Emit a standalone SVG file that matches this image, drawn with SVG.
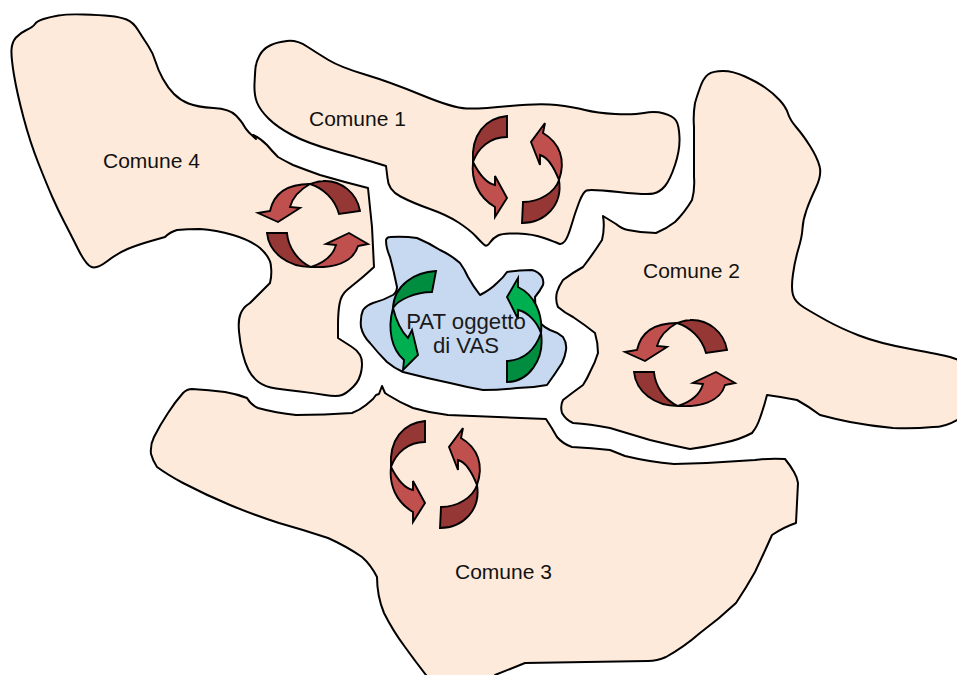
<svg xmlns="http://www.w3.org/2000/svg" xmlns:xlink="http://www.w3.org/1999/xlink" width="957" height="675" viewBox="0 0 957 675">
<style>
.area{fill:#FDEADA;stroke:#000;stroke-width:2;stroke-linejoin:round}
.pat{fill:#C6D9F0;stroke:#000;stroke-width:2;stroke-linejoin:round}
.lab{font-family:"Liberation Sans",Arial,sans-serif;font-size:21px;fill:#111}
.labp{font-family:"Liberation Sans",Arial,sans-serif;font-size:22.2px;fill:#1a1a1a;text-anchor:middle}
.dk,.lt,.gd,.gl{stroke:#000;stroke-width:1.9;stroke-linejoin:miter}
.dk{fill:#953735}.lt{fill:#C0504D}.gd{fill:#008D40}.gl{fill:#00B050}
</style>
<defs>
<g id="pair-v">
<path class="dk" d="M507,116C485,118 471,135 473,162C478,148 490,137 507,137Z"/>
<path class="lt" d="M473,162C471,180 478,197 495,207L495,217L507,198L495,176L495,185C485,183 478,172 473,162Z"/>
<path class="dk" d="M522,223C545,223 563,205 559,180C555,192 540,202 523,202Z"/>
<path class="lt" d="M559,180C566,160 560,143 543,133L545,123L531,142L540,165L540,155C548,157 555,170 559,180Z"/>
</g>
<g id="pair-h">
<path class="dk" d="M727,350C724,332 708,319 690,320C685,320 681,322 677,323C690,327 702,338 706,353Z"/>
<path class="lt" d="M677,323C655,323 641,332 637,350L625,352L645,361L667,347L657,346C660,335 668,328 677,323Z"/>
<path class="dk" d="M634,372C636,392 655,406 678,406C664,400 655,385 654,372Z"/>
<path class="lt" d="M678,406C700,407 720,402 725,385L735,383L716,372L693,383L703,384C700,395 690,402 678,406Z"/>
</g>
</defs>
<g id="comune-4">
<path class="area" d="M16,37.5Q20,33 26.5,30Q33,27 35,24Q37,21 43.5,19Q50,17 58.5,15.5Q67,14 83.5,14.5Q100,15 110,16Q120,17 126.5,19.5Q133,22 138,30Q143,38 148,45.5Q153,53 155.5,61.5Q158,70 163,79Q168,88 174,94Q180,100 188.5,103.5Q197,107 213.5,108Q230,109 236,115.5Q242,122 243.5,125Q245,128 249,132.5L256,139L253,135Q260,138 267,145Q272,151 278,157Q285,161 293,165Q306,170 320,175Q344,182 368,188L372,227L374,267L368.5,272Q363,277 358,281Q353,285 347,290Q341,295 339.5,304Q338,313 338,325.5L338,338L352,347Q357,350 360,355Q363,360 361.5,370Q360,380 353.5,386.5Q347,393 342,395Q337,397 325,395Q313,393 300,391.5Q287,390 276,388.5Q265,387 258.5,382Q252,377 248.5,370Q245,363 242.5,353Q240,343 239,331.5Q238,320 240.5,314Q243,308 246.5,305.5L250,303L270,283Q272,275 271,267Q271,258 260,248Q250,240 233,235Q216,230 200,229Q187,229 177,230Q170,232 165,237Q158,239 151,241Q137,245 127.5,249Q118,253 107.5,261Q97,269 91.5,267Q86,265 78,249Q70,233 64,221.5Q58,210 52.5,197.5Q47,185 38.5,163.5Q30,142 23.5,117.5Q17,93 14,75Q11,57 11.5,49.5Q12,42 16,37.5Z"/>
<text class="lab" x="103" y="168">Comune 4</text>
</g>
<g id="comune-1">
<path class="area" d="M259.5,55.5Q263,49 270,45.5Q277,42 287,41Q297,40 307,46.5Q317,53 328.5,60Q340,67 365,74.5Q390,82 421.5,95Q453,108 466.5,108.5Q480,109 510,106Q540,103 556.5,105Q573,107 585,110Q597,113 615,114Q633,115 644,113Q655,111 664,113.5Q673,116 676,120.5Q679,125 679.5,137.5Q680,150 675,165Q670,180 665,186Q660,192 653.5,193.5Q647,195 618.5,192Q590,189 586.5,190.5Q583,192 579,202.5Q575,213 571.5,225Q568,237 565,241Q562,245 558.5,243.5Q555,242 544,238Q533,234 518,233.5Q503,233 498,235.5Q493,238 490,242.5Q487,247 484.5,245Q482,243 476,236.5Q470,230 458.5,222.5Q447,215 430,209Q413,203 400.5,196.5Q388,190 387.5,178L386,166L374.5,162.5Q363,159 335,151Q307,143 292,135Q277,127 268.5,118.5Q260,110 257,102.5Q254,95 254.5,84Q255,73 255.5,67.5Q256,62 259.5,55.5Z"/>
<text class="lab" x="309" y="126">Comune 1</text>
</g>
<g id="comune-2">
<path class="area" d="M699,90.5Q703,78 708,74.5Q713,71 723,71Q733,71 745,76.5Q757,82 765,87.5Q773,93 779.5,100Q786,107 788,113.5Q790,120 796.5,127.5Q803,135 810,146Q817,157 819.5,166Q822,175 816,187.5Q810,200 806.5,210Q803,220 802.5,228.5Q802,237 798.5,248.5Q795,260 793,274Q791,288 793,295Q795,302 804,307.5Q813,313 826.5,320.5Q840,328 859,335.5Q878,343 910.5,349Q943,355 950,357L965,362L965,420L957,420Q945,427 933,427Q913,429 893,428Q871,426 850,422Q835,419 820,415Q808,406 797,400Q782,397 767,395Q764,407 760,418Q757,427 752,433Q739,440 723,443Q706,447 690,449Q670,445 650,440Q630,434 610,428Q590,424 573,423Q566,420 562,413Q560,406 563,400Q572,393 583,385Q587,379 590,372Q595,363 598,353Q598,343 595,333Q585,325 573,317Q565,313 558,307Q555,300 557,292Q559,286 563,280Q572,273 583,267Q593,254 602,240Q605,228 603,216L616,224Q622,229 628,230Q642,233 656,233Q666,229 675,222Q685,212 692,200Q695,189 694,177L694,127Q693,115 695,103Q697,96 699,90.5Z"/>
<text class="lab" x="643" y="278">Comune 2</text>
</g>
<g id="comune-3">
<path class="area" d="M151,454Q150,445 154,437Q160,425 168,413Q175,402 183,393Q187,389 192,389Q209,390 225,392Q237,394 247,398Q251,405 258,408Q276,413 296,415Q325,415 352,413Q360,410 366,405L373,399L376,395L379,394L382,386L385,393L388,395Q399,402 413,408Q430,413 448,415L546,419Q552,428 557,437Q563,444 572,447Q592,448 610,450L625,456Q650,462 674,464Q715,463 755,460Q770,458 785,459Q790,465 794,472Q797,477 798,483L796,523Q784,527 772,535Q764,553 755,572Q746,588 736,603Q719,619 700,633Q684,647 666,657Q657,661 648,661L525,663L495,675L490,682L432,682L426,675Q415,661 405,647Q393,631 384,613Q377,596 377,577Q371,565 362,557Q346,546 328,538Q304,530 279,523Q254,515 230,505Q206,495 183,483Q168,475 157,467Q153,461 151,454Z"/>
<text class="lab" x="455" y="579">Comune 3</text>
</g>
<g id="pat">
<path class="pat" d="M386,240Q387,237 390,237Q404,236 417,238Q429,243 440,250Q451,255 460,263Q465,270 468,277Q473,286 480,295Q490,290 497,283Q503,278 507,272Q519,270 532,270Q539,272 542,277Q544,281 543,285Q540,291 535,297Q535,311 540,323Q544,327 550,330Q557,332 563,337Q567,343 566,350Q565,357 562,363Q555,374 547,385Q532,388 517,388Q500,390 483,390Q466,387 450,383Q426,378 403,372Q394,368 387,362Q378,353 370,343Q363,336 361,327Q360,317 363,310Q367,305 373,303Q384,300 393,295Q397,292 397,287Q394,272 390,257Q386,248 386,240Z"/>
</g>
<g id="connectors">
<use href="#pair-v" xlink:href="#pair-v"/>
<use href="#pair-v" xlink:href="#pair-v" transform="translate(-82,305)"/>
<use href="#pair-h" xlink:href="#pair-h"/>
<use href="#pair-h" xlink:href="#pair-h" transform="translate(-367,-139)"/>
<path class="gd" d="M436,271C415,272 394,285 393,308C398,300 415,292 432,292Z"/>
<path class="gl" d="M393,308C387,330 392,350 404,360L403,370L418,355L412,330L408,338C400,330 396,320 393,308Z"/>
<path class="gd" d="M507,382C528,382 545,360 541,333C535,350 525,360 507,361Z"/>
<path class="gl" d="M541,333C543,315 535,295 518,287L518,278L507,297L518,319L518,310C528,312 537,322 541,333Z"/>
</g>
<g id="pat-label">
<text class="labp" x="466" y="328.5">PAT oggetto</text>
<text class="labp" x="466" y="352.5">di VAS</text>
</g>
</svg>
